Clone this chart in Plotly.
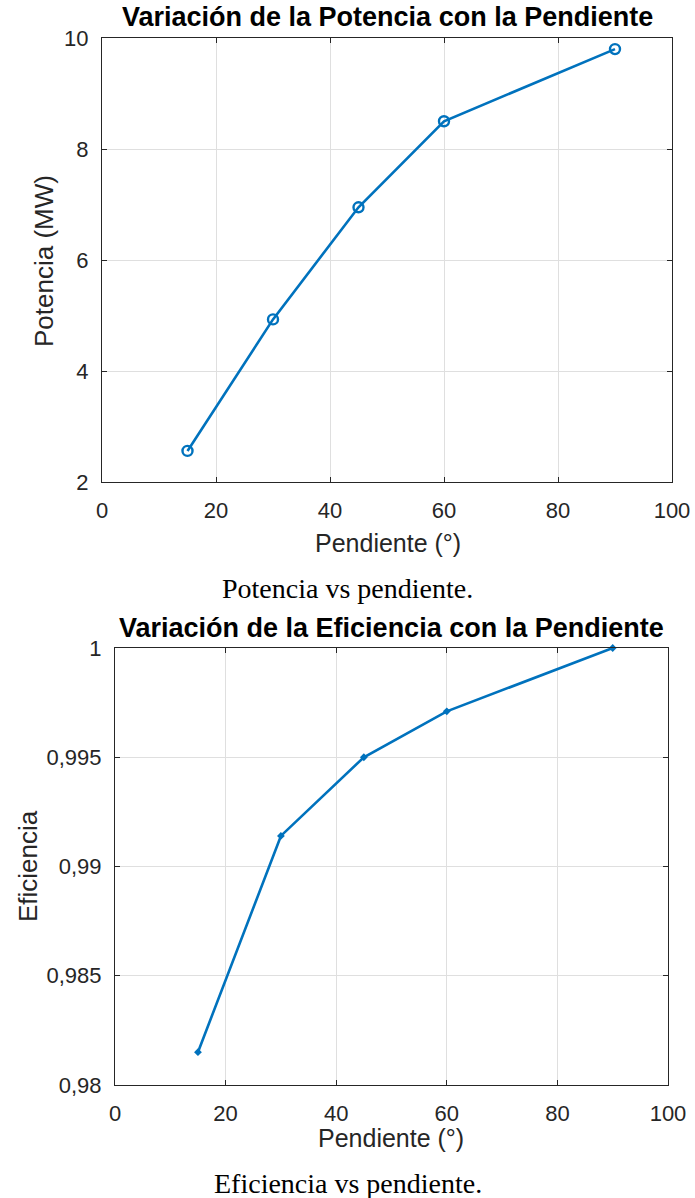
import plotly.graph_objects as go

# ---- data ----
pendiente = [15, 30, 45, 60, 90]
potencia_mw = [2.56, 4.93, 6.95, 8.50, 9.80]
eficiencia = [0.9815, 0.9914, 0.9950, 0.9971, 1.0000]

x_ticks = [0, 20, 40, 60, 80, 100]
pot_ticks = [2, 4, 6, 8, 10]
ef_ticks = [0.98, 0.985, 0.99, 0.995, 1.0]
ef_ticktext = ["0,98", "0,985", "0,99", "0,995", "1"]

title_top = "Variación de la Potencia con la Pendiente"
title_bot = "Variación de la Eficiencia con la Pendiente"
xlabel = "Pendiente (°)"
ylabel_top = "Potencia (MW)"
ylabel_bot = "Eficiencia"
caption_top = "Potencia vs pendiente."
caption_bot = "Eficiencia vs pendiente."

W, H = 695, 1198
LINE = "#0072BD"
AX = "#262626"
GRID = "#DFDFDF"
SANS = "Liberation Sans, Arial, sans-serif"
SERIF = "Liberation Serif, Times New Roman, serif"

def px(v):
    return v / W

def py(v):
    return 1 - v / H

top_dom_x = [px(102), px(672)]
top_dom_y = [py(482), py(38)]
bot_dom_x = [px(115), px(668)]
bot_dom_y = [py(1085), py(648)]

fig = go.Figure()
fig.add_trace(go.Scatter(
    x=pendiente, y=potencia_mw, mode="lines+markers",
    line=dict(color=LINE, width=2.6),
    marker=dict(symbol="circle-open", size=10, color=LINE, line=dict(width=2.4, color=LINE)),
    xaxis="x", yaxis="y", showlegend=False, cliponaxis=False))
fig.add_trace(go.Scatter(
    x=pendiente, y=eficiencia, mode="lines+markers",
    line=dict(color=LINE, width=2.6),
    marker=dict(symbol="diamond", size=6, color=LINE),
    xaxis="x2", yaxis="y2", showlegend=False, cliponaxis=False))

axis_common = dict(
    showline=True, linecolor=AX, linewidth=1.2, mirror="allticks",
    ticks="inside", ticklen=5, tickcolor=AX, tickwidth=1,
    showgrid=True, gridcolor=GRID, gridwidth=1, zeroline=False,
    automargin=False,
    tickfont=dict(family=SANS, size=22, color=AX),
)

fig.update_layout(
    width=W, height=H, margin=dict(l=0, r=0, t=0, b=0),
    paper_bgcolor="white", plot_bgcolor="white",
    xaxis=dict(domain=top_dom_x, range=[0, 100], tickvals=x_ticks, anchor="y",
               ticklabelstandoff=8, **axis_common),
    yaxis=dict(domain=top_dom_y, range=[2, 10], tickvals=pot_ticks, anchor="x",
               ticklabelstandoff=8, **axis_common),
    xaxis2=dict(domain=bot_dom_x, range=[0, 100], tickvals=x_ticks, anchor="y2",
                ticklabelstandoff=8, **axis_common),
    yaxis2=dict(domain=bot_dom_y, range=[0.98, 1.0], tickvals=ef_ticks,
                ticktext=ef_ticktext, anchor="x2", ticklabelstandoff=8, **axis_common),
)

ann = []
def add_text(text, x, y, size, family=SANS, bold=False, angle=0, color="black"):
    t = f"<b>{text}</b>" if bold else text
    ann.append(dict(text=t, x=px(x), y=py(y), xref="paper", yref="paper",
                    xanchor="center", yanchor="middle", showarrow=False,
                    textangle=angle, font=dict(family=family, size=size, color=color)))

add_text(title_top, 387, 17, 27, bold=True)
add_text(title_bot, 391, 628, 27, bold=True)
add_text(xlabel, 388, 543, 25, color=AX)
add_text(xlabel, 391, 1138, 25, color=AX)
add_text(ylabel_top, 44, 261, 26, angle=-90, color=AX)
add_text(ylabel_bot, 28, 866, 26, angle=-90, color=AX)
add_text(caption_top, 348, 588, 28, family=SERIF)
add_text(caption_bot, 348, 1183, 28, family=SERIF)

fig.update_layout(annotations=ann)
fig.write_html("out.html")
